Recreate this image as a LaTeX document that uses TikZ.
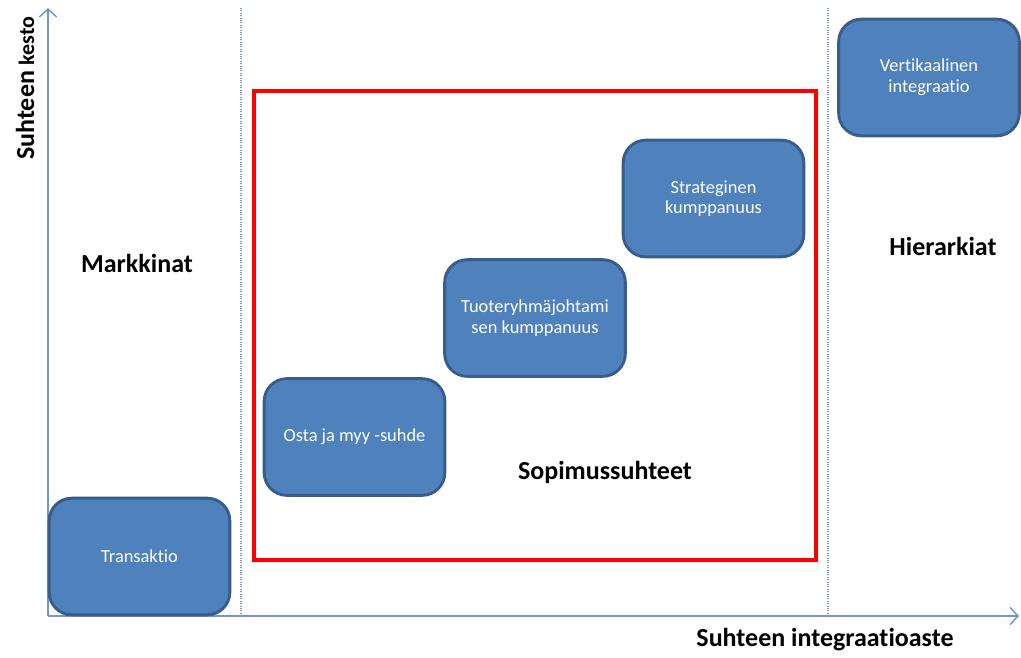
\documentclass[tikz,border=0pt]{standalone}
\usepackage{fontspec}
\setmainfont{Carlito}[Ligatures={NoCommon}]
\usetikzlibrary{arrows.meta}
\definecolor{boxblue}{HTML}{4F81BD}
\definecolor{boxedge}{HTML}{385D8A}
\definecolor{axisblue}{HTML}{7096CB}

\begin{document}
\begin{tikzpicture}[x=0.75pt,y=-0.75pt,>={Straight Barb[length=6pt,width=13pt]}]
  \tikzstyle{box}=[draw=boxedge, fill=boxblue, line width=2.2pt, rounded corners=17pt, minimum width=135.5pt, minimum height=87.5pt, align=center, text=white, font=\fontsize{13.8}{15.5}\selectfont]
  \tikzstyle{area}=[font=\fontsize{19.5}{23}\selectfont\bfseries]
  \tikzstyle{divider}=[axisblue, densely dotted, line width=0.8pt]
  \useasboundingbox (0,0) rectangle (1021,657);

  \coordinate (origin) at (48,616);
  \coordinate (ytop) at (48,8);
  \coordinate (xend) at (1019,616);
  \coordinate (d1top) at (241,8);
  \coordinate (d1bot) at (241,614);
  \coordinate (d2top) at (828,8);
  \coordinate (d2bot) at (828,614);

  \draw[divider] (d1top) -- (d1bot);
  \draw[divider] (d2top) -- (d2bot);
  \draw[->, axisblue, line width=1.1pt] (origin) -- (ytop);
  \draw[->, axisblue, line width=1.1pt] (origin) -- (xend);

  \node[draw=red, line width=2.3pt, minimum width=421.5pt, minimum height=351.75pt] (frame) at (535,325.5) {};

  \node[box] (trans) at (139.5,556.5) {Transaktio};
  \node[box] (osta) at (354.5,437) {Osta ja myy -suhde};
  \node[box] (tuote) at (535,318) {Tuoteryhmäjohtami\\sen kumppanuus};
  \node[box] (strat) at (713.5,198.5) {Strateginen\\kumppanuus};
  \node[box] (vert) at (929,77.5) {Vertikaalinen\\integraatio};

  \node[area] (markkinat) at (137,263) {Markkinat};
  \node[area] (hierarkiat) at (943,246) {Hierarkiat};
  \node[area] (sopimus) at (605,472) {Sopimussuhteet};
  \node[area] (xlabel) at (825,640) {Suhteen integraatioaste};
  \node[area, rotate=90] (ylabel) at (25,88) {Suhteen {\fontsize{16.5}{20}\selectfont kesto}};
\end{tikzpicture}
\end{document}
